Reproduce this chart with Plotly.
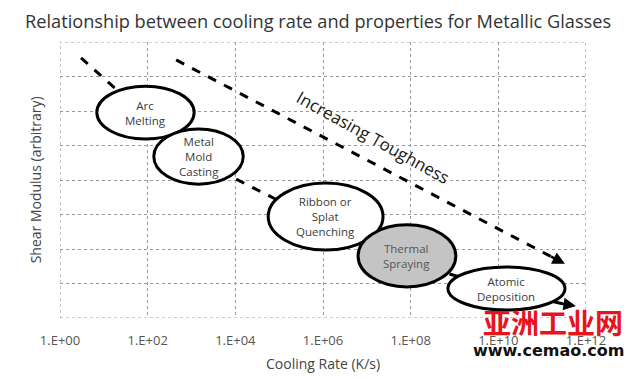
import plotly.graph_objects as go

# ---- data ----
tick_vals = [0, 2, 4, 6, 8, 10, 12]
tick_labels = ["1.E+00", "1.E+02", "1.E+04", "1.E+06", "1.E+08", "1.E+10", "1.E+12"]

processes = ["Arc<br>Melting", "Metal<br>Mold<br>Casting", "Ribbon or<br>Splat<br>Quenching",
             "Thermal<br>Spraying", "Atomic<br>Deposition"]
rate_lo = [0.84, 2.14, 4.75, 6.80, 8.85]      # log10 cooling rate, ellipse left
rate_hi = [3.06, 4.18, 7.37, 9.03, 11.52]     # ellipse right
mod_lo = [5.19, 3.88, 1.97, 0.90, 0.23]       # shear modulus, ellipse bottom
mod_hi = [6.72, 5.48, 3.91, 2.70, 1.48]       # ellipse top
fills = ["white", "white", "white", "#c4c4c4", "white"]
label_colors = ["#3c3c3c", "#3c3c3c", "#3c3c3c", "#555555", "#3c3c3c"]

path_rate = [0.48, 1.94, 3.15, 6.05, 7.92, 10.18, 11.77]
path_mod = [7.54, 5.88, 4.58, 2.72, 1.62, 0.81, 0.35]

tough_rate = [2.65, 11.52]
tough_mod = [7.48, 1.57]

FONT = "Open Sans"

fig = go.Figure()

# main dashed trend line
fig.add_trace(go.Scatter(x=path_rate[:-1] + [path_rate[-1] - 0.3],
                         y=path_mod[:-1] + [path_mod[-1] + 0.06],
                         mode="lines", line=dict(color="black", width=3, dash="dash"),
                         hoverinfo="skip", showlegend=False))
# increasing toughness dashed line
fig.add_trace(go.Scatter(x=[tough_rate[0], tough_rate[1] - 0.3],
                         y=[tough_mod[0], tough_mod[1] + 0.2],
                         mode="lines", line=dict(color="black", width=3, dash="dash"),
                         hoverinfo="skip", showlegend=False))

shapes = []
for i in range(len(processes)):
    shapes.append(dict(type="circle", xref="x", yref="y", layer="above",
                       x0=rate_lo[i], x1=rate_hi[i], y0=mod_lo[i], y1=mod_hi[i],
                       fillcolor=fills[i], line=dict(color="black", width=3)))
# dotted plot border
shapes.append(dict(type="rect", xref="x", yref="y", x0=0, x1=12, y0=0, y1=8,
                   line=dict(color="#9a9a9a", width=1.2, dash="dot"), layer="below"))

annotations = []
for i, p in enumerate(processes):
    annotations.append(dict(x=(rate_lo[i] + rate_hi[i]) / 2, y=(mod_lo[i] + mod_hi[i]) / 2,
                            xref="x", yref="y", text=p, showarrow=False,
                            font=dict(family=FONT, size=11.5, color=label_colors[i])))
# arrowheads
annotations.append(dict(x=path_rate[-1], y=path_mod[-1], ax=path_rate[-1] - 0.35,
                        ay=path_mod[-1] + 0.07, xref="x", yref="y", axref="x", ayref="y",
                        text="", showarrow=True, arrowhead=2, arrowsize=1, arrowwidth=2.5,
                        arrowcolor="black"))
annotations.append(dict(x=tough_rate[-1], y=tough_mod[-1], ax=tough_rate[-1] - 0.35,
                        ay=tough_mod[-1] + 0.23, xref="x", yref="y", axref="x", ayref="y",
                        text="", showarrow=True, arrowhead=2, arrowsize=1, arrowwidth=2.5,
                        arrowcolor="black"))
annotations.append(dict(x=7.15, y=5.22, xref="x", yref="y", text="Increasing Toughness",
                        showarrow=False, textangle=29,
                        font=dict(family=FONT, size=17, color="#1a1a1a")))
# axis titles
annotations.append(dict(x=0.5, y=-0.123, xref="paper", yref="paper", yanchor="top",
                        text="Cooling Rate (K/s)", showarrow=False,
                        font=dict(family=FONT, size=14, color="#444444")))
annotations.append(dict(x=-0.025, y=0.5, xref="paper", yref="paper", xanchor="right",
                        text="Shear Modulus (arbitrary)", showarrow=False, textangle=-90,
                        font=dict(family=FONT, size=14, color="#444444")))
# watermark
annotations.append(dict(x=1.074, y=-0.015, xref="paper", yref="paper", xanchor="right",
                        yanchor="middle", text="<b>亚洲工业网</b>", showarrow=False,
                        font=dict(family="Noto Sans CJK SC", size=28, color="#e8141c")))
annotations.append(dict(x=1.076, y=-0.075, xref="paper", yref="paper", xanchor="right",
                        yanchor="top", text="<b>www.cemao.com</b>", showarrow=False,
                        font=dict(family="DejaVu Sans", size=16, color="#111111")))

fig.update_layout(
    width=640, height=379,
    margin=dict(l=60, r=54, t=42, b=61),
    paper_bgcolor="white", plot_bgcolor="white",
    title=dict(text="Relationship between cooling rate and properties for Metallic Glasses",
               x=0.497, xanchor="center", y=0.942, yanchor="middle",
               font=dict(family=FONT, size=18.2, color="#333333")),
    xaxis=dict(range=[0, 12], tickvals=tick_vals, ticktext=tick_labels,
               showgrid=True, gridcolor="#9a9a9a", griddash="dot", gridwidth=1.2,
               zeroline=False, showline=False, ticks="outside", ticklen=10,
               tickcolor="rgba(0,0,0,0)",
               tickfont=dict(family=FONT, size=13, color="#555555")),
    yaxis=dict(range=[0, 8], tickvals=list(range(9)), showticklabels=False,
               showgrid=True, gridcolor="#9a9a9a", griddash="dot", gridwidth=1.2,
               zeroline=False, showline=False, ticks=""),
    shapes=shapes, annotations=annotations, showlegend=False,
)

fig.write_html("out.html", config={"displayModeBar": False},
               post_script="document.body.style.margin='0';")
